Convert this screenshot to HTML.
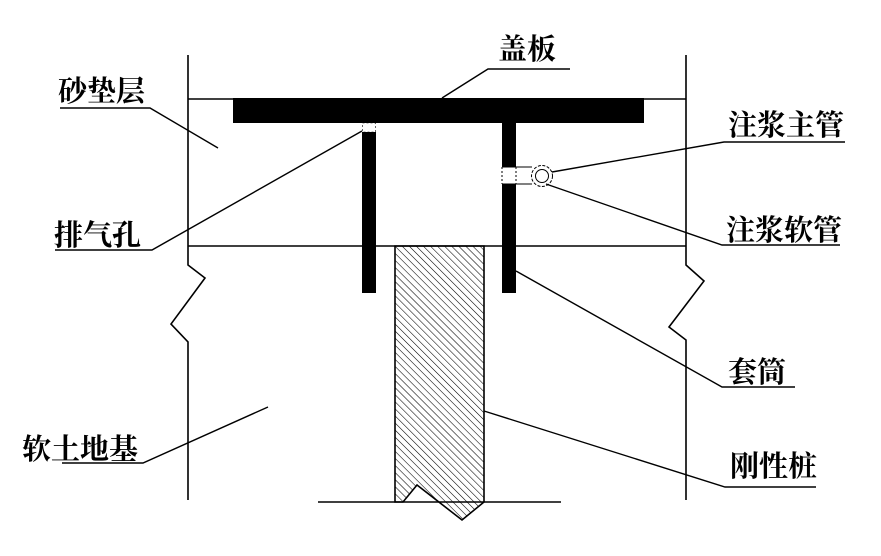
<!DOCTYPE html>
<html><head><meta charset="utf-8"><style>
html,body{margin:0;padding:0;background:#fff;}
svg{display:block;}
text{font-family:"Liberation Serif","Noto Serif CJK SC","Noto Sans CJK SC",serif;font-size:29px;font-weight:bold;fill:#000;}
</style></head><body>
<svg width="881" height="556" viewBox="0 0 881 556" xmlns="http://www.w3.org/2000/svg">
<defs>
<pattern id="h" patternUnits="userSpaceOnUse" width="5" height="5" patternTransform="rotate(-45)">
<line x1="0" y1="0" x2="0" y2="5" stroke="#000" stroke-width="1.1"/>
</pattern>
</defs>
<g fill="none" stroke="#000" stroke-width="1.6">
<polyline points="188,55 188,265 205,278 171,324 188,342 188,500"/>
<polyline points="686,55 686,265 704,281 669,327 686,340 686,500"/>
<line x1="188" y1="99" x2="686" y2="99"/>
<line x1="188" y1="246" x2="686" y2="246"/>
<line x1="318" y1="502" x2="561" y2="502"/>
</g>
<polygon points="395,246 484,246 484,502 462,520 417,485 403,502 395,502" fill="url(#h)" stroke="#000" stroke-width="1.6"/>
<rect x="233" y="98" width="411" height="25" fill="#000"/>
<rect x="362" y="132" width="14" height="161" fill="#000"/>
<rect x="362.5" y="123" width="13" height="9" fill="#fff" stroke="#000" stroke-width="0.6" stroke-dasharray="2,2"/>
<rect x="502" y="123" width="14" height="44" fill="#000"/>
<rect x="502" y="184" width="14" height="109" fill="#000"/>
<g stroke="#000" stroke-width="1" fill="none">
<line x1="502" y1="167" x2="502" y2="184" stroke-dasharray="2,2"/>
<line x1="516" y1="167" x2="516" y2="184" stroke-dasharray="2,2"/>
<line x1="502" y1="167" x2="532" y2="167"/>
<line x1="502" y1="184" x2="532" y2="184"/>
<circle cx="542" cy="176" r="10.5" stroke-dasharray="3,1.5" fill="#fff"/>
<circle cx="542" cy="176" r="6.5"/>
</g>
<g stroke="#000" stroke-width="1.4" fill="none">
<polyline points="442,98 488,69 570,69"/>
<polyline points="60,108 150,108 218,148"/>
<polyline points="55,250 152,250 362,131"/>
<polyline points="62,463 143,463 268,407"/>
<polyline points="552,172 724,142 845,142"/>
<polyline points="546,184 722,245 840,245"/>
<polyline points="516,271 722,387 795,387"/>
<polyline points="484,411 725,487 816,487"/>
</g>
<text x="498" y="59">盖板</text>
<text x="58" y="101">砂垫层</text>
<text x="54" y="245">排气孔</text>
<text x="22" y="459">软土地基</text>
<text x="728" y="135">注浆主管</text>
<text x="726" y="240">注浆软管</text>
<text x="728" y="382">套筒</text>
<text x="730" y="476">刚性桩</text>
</svg>
</body></html>
